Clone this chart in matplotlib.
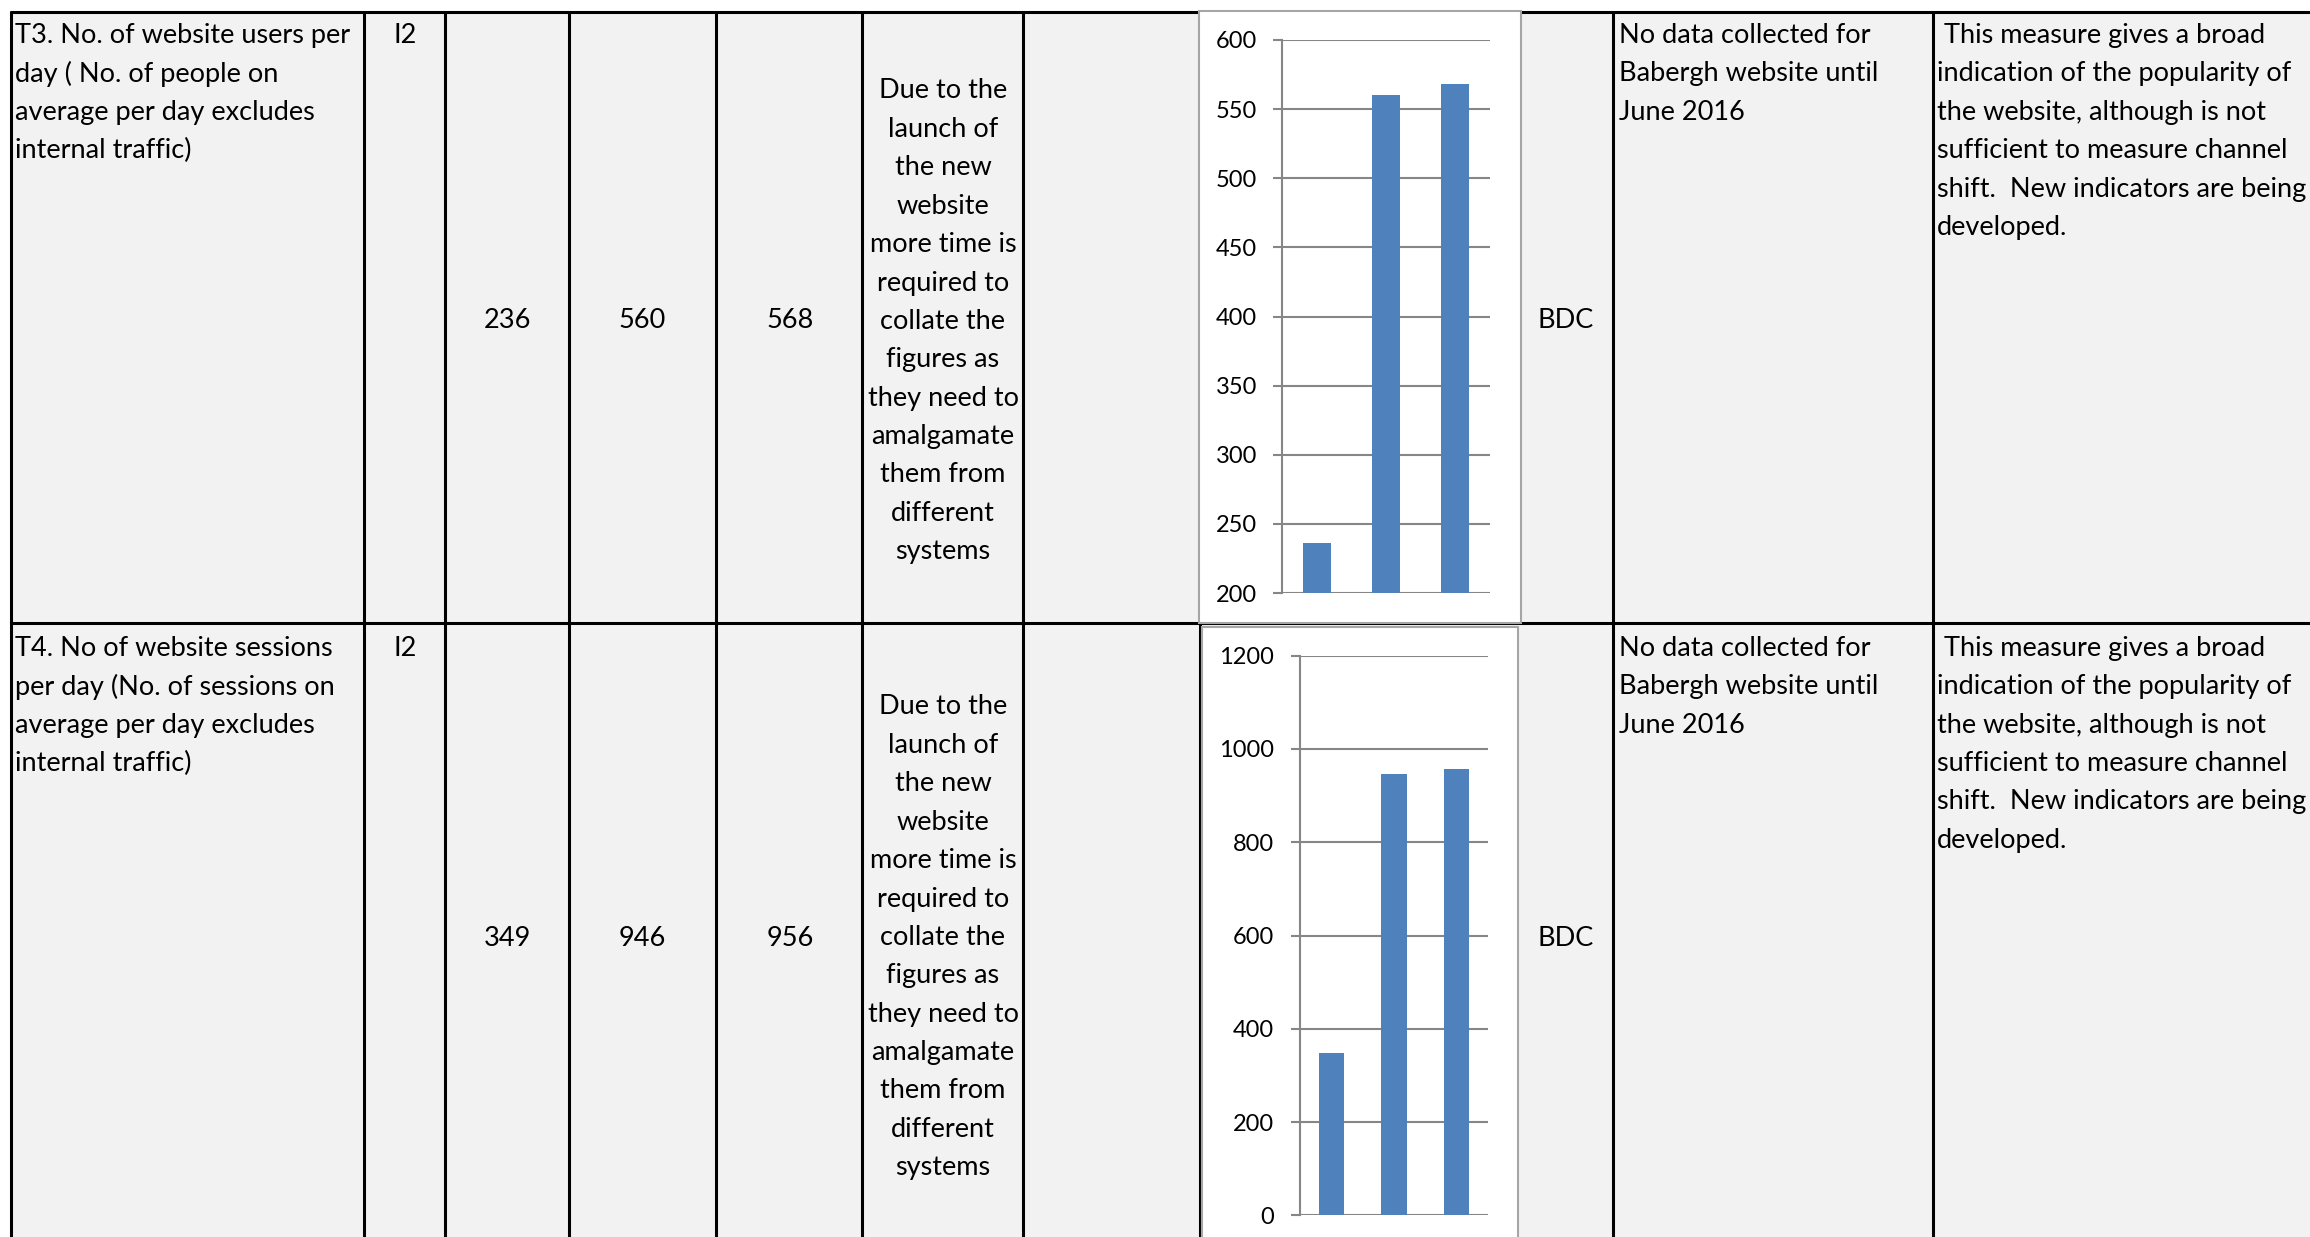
import matplotlib
matplotlib.use("Agg")
import matplotlib.pyplot as plt
from matplotlib.patches import Rectangle

# ---------------- data ----------------
periods = ["P1", "P2", "P3"]
users_per_day = [236, 560, 568]
sessions_per_day = [349, 946, 956]
users_ticks = [200, 250, 300, 350, 400, 450, 500, 550, 600]
sessions_ticks = [0, 200, 400, 600, 800, 1000, 1200]

t3_desc = ["T3. No. of website users per", "day ( No. of people on",
           "average per day excludes", "internal traffic)"]
t4_desc = ["T4. No of website sessions", "per day (No. of sessions on",
           "average per day excludes", "internal traffic)"]
ref_code = "I2"
reason = ["Due to the", "launch of", "the new", "website", "more time is",
          "required to", "collate the", "figures as", "they need to",
          "amalgamate", "them from", "different", "systems"]
owner = "BDC"
note = ["No data collected for", "Babergh website until", "June 2016"]
comment = [" This measure gives a broad", "indication of the popularity of",
           "the website, although is not", "sufficient to measure channel",
           "shift.  New indicators are being", "developed."]

# ---------------- figure ----------------
W, H = 2310, 1237
FONT = "Lato"
plt.rcParams["font.family"] = [FONT, "DejaVu Sans"]
fig = plt.figure(figsize=(W / 100, H / 100), dpi=100)
fig.patch.set_facecolor("white")
bg = fig.add_axes([0, 0, 1, 1])
bg.set_xlim(0, W)
bg.set_ylim(H, 0)
bg.axis("off")

CELL = "#f2f2f2"
BAR = "#4f81bd"
GRID = "#868686"
BOXC = "#a6a6a6"
LW = 2.2
FS = 19.5
LS = 38.4
DY = 3  # text baseline offset

bg.add_patch(Rectangle((11, 12), W - 11, H - 12, facecolor=CELL, edgecolor="none", zorder=0))

# table lines
row_top, row_mid, row_bot = 12, 623, H
bg.plot([10, 1199], [row_top, row_top], color="black", lw=LW, zorder=2, solid_capstyle="butt")
bg.plot([1521, W], [row_top, row_top], color="black", lw=LW, zorder=2, solid_capstyle="butt")
bg.plot([10, W], [row_mid, row_mid], color="black", lw=LW, zorder=2, solid_capstyle="butt")
for x in [11, 364, 445, 569, 716, 862, 1023, 1613, 1933]:
    bg.plot([x, x], [row_top - 1, row_bot], color="black", lw=LW, zorder=2, solid_capstyle="butt")
bg.plot([1200, 1200], [row_mid, row_bot], color="black", lw=LW, zorder=2, solid_capstyle="butt")

# chart frames
bg.add_patch(Rectangle((1199, 11), 322, 612, facecolor="white", edgecolor=BOXC, lw=1.5, zorder=3))
bg.add_patch(Rectangle((1202, 627), 316, 700, facecolor="white", edgecolor=BOXC, lw=1.5, zorder=3))


def lines_left(x, y0, lines):
    for i, s in enumerate(lines):
        bg.text(x, y0 + DY + i * LS, s, ha="left", va="center", fontsize=FS, zorder=4, clip_on=True)


def lines_center(x, y0, lines):
    for i, s in enumerate(lines):
        bg.text(x, y0 + DY + i * LS, s, ha="center", va="center", fontsize=FS, zorder=4)


for (desc, vals, top, mid, rtop) in [(t3_desc, users_per_day, 32.4, 317.5, 88),
                                     (t4_desc, sessions_per_day, 645.3, 935.5, 704)]:
    lines_left(15, top, desc)
    bg.text(405, top + DY, ref_code, ha="center", va="center", fontsize=FS, zorder=4)
    for cx, v in zip([507, 642, 790], vals):
        bg.text(cx, mid + DY, str(v), ha="center", va="center", fontsize=FS, zorder=4)
    lines_center(943, rtop, reason)
    bg.text(1566, mid + DY, owner, ha="center", va="center", fontsize=FS, zorder=4)
    lines_left(1619, top, note)
    lines_left(1937, top, comment)


def bar_chart(left, right, top, bottom, values, ticks, pad):
    ax = fig.add_axes([left / W, 1 - bottom / H, (right - left) / W, (bottom - top) / H])
    ax.set_facecolor("none")
    ax.set_zorder(5)
    ax.bar(range(len(periods)), values, width=0.4, color=BAR, zorder=3)
    ax.set_xlim(-0.5, len(periods) - 0.5)
    ax.set_ylim(ticks[0], ticks[-1])
    ax.set_yticks(ticks)
    ax.set_xticks([])
    for s in ["top", "right", "bottom"]:
        ax.spines[s].set_visible(False)
    ax.spines["left"].set_color(GRID)
    ax.spines["left"].set_linewidth(1.5)
    ax.yaxis.grid(True, color=GRID, lw=1.5)
    ax.set_axisbelow(True)
    ax.tick_params(axis="y", length=6.5, width=1.5, color=GRID, pad=pad,
                   labelsize=17, labelcolor="black")
    return ax


bar_chart(1282, 1490, 40, 593, users_per_day, users_ticks, 11.5)
bar_chart(1300, 1488, 655.6, 1215.4, sessions_per_day, sessions_ticks, 12)

fig.savefig("out.png", dpi=100, facecolor="white")
